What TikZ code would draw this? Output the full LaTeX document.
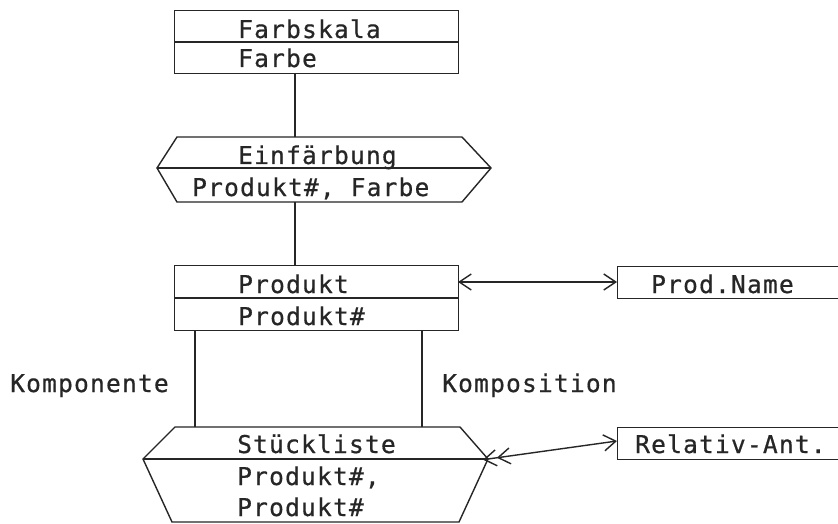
\documentclass[tikz,border=0pt]{standalone}
\usepackage{fontspec}
\newfontfamily\plotfont{DejaVu Sans Mono}[LetterSpace=5, FakeBold=0.6]
\usetikzlibrary{arrows.meta}
\begin{document}
\begin{tikzpicture}[x=1pt, y=-1pt,
  lbl/.style={anchor=base west, inner sep=0pt, font=\plotfont\fontsize{24.5}{28}\selectfont, text=black!85},
  frame/.style={draw=black!85, line width=1.4pt},
  link/.style={draw=black!85, line width=1.4pt},
  box/.style={frame, anchor=north west, inner sep=0pt},
  >={Straight Barb[length=12pt,width=16pt]}]
\useasboundingbox (0,0) rectangle (838,524);
\fill[white] (0,0) rectangle (838,524);

% entity: Farbskala
\node[box, minimum width=284pt, minimum height=63pt] (farbskala) at (174,10) {};
\draw[frame] (174,42) -- (458,42);
\node[lbl] (fs1) at (238,38) {Farbskala};
\node[lbl] (fs2) at (238,67) {Farbe};

% relationship: Einfärbung
\draw[frame] (177,137) -- (462,137) -- (491,168) -- (462,202) -- (177,202) -- (157,168) -- cycle;
\draw[frame] (157,168) -- (491,168);
\node[lbl] (ei1) at (238,164) {Einfärbung};
\node[lbl] (ei2) at (192,196) {Produkt\#, Farbe};

% entity: Produkt
\node[box, minimum width=284pt, minimum height=65pt] (produkt) at (174,265) {};
\draw[frame] (174,298) -- (458,298);
\node[lbl] (pr1) at (238,293) {Produkt};
\node[lbl] (pr2) at (238,325) {Produkt\#};

% attribute: Prod.Name
\node[box, minimum width=240pt, minimum height=32pt] (prodname) at (617,266) {};
\node[lbl] (pn) at (651,293) {Prod.Name};

% relationship: Stückliste
\draw[frame] (175,427) -- (460,427) -- (488,459) -- (459,522) -- (172,522) -- (143,459) -- cycle;
\draw[frame] (143,459) -- (488,459);
\node[lbl] (st1) at (237,453) {Stückliste};
\node[lbl] (st2) at (237,485) {Produkt\#,};
\node[lbl] (st3) at (237,516) {Produkt\#};

% attribute: Relativ-Ant.
\node[box, minimum width=240pt, minimum height=32pt] (relant) at (617,427) {};
\node[lbl] (ra) at (635,453) {Relativ-Ant.};

% role labels
\node[lbl] (komp1) at (10,392) {Komponente};
\node[lbl] (komp2) at (442,392) {Komposition};

% attachment points on the shapes
\coordinate (fs-b) at (295,73);
\coordinate (ei-t) at (295,137);
\coordinate (ei-b) at (295,202);
\coordinate (pr-t) at (295,265);
\coordinate (pr-bl) at (195,330);
\coordinate (pr-br) at (422,330);
\coordinate (st-tl) at (195,427);
\coordinate (st-tr) at (422,427);
\coordinate (pr-r) at (458,282);
\coordinate (pn-l) at (617,282);
\coordinate (st-r) at (488,459);
\coordinate (ra-l) at (617,441);

% connectors
\draw[link] (fs-b) -- (ei-t);
\draw[link] (ei-b) -- (pr-t);
\draw[link] (pr-bl) -- (st-tl);
\draw[link] (pr-br) -- (st-tr);
\draw[link, <->] (pr-r) -- (pn-l);
\draw[link, {Straight Barb[length=12pt,width=16pt,sep=-5pt]Straight Barb[length=12pt,width=16pt]}-{Straight Barb[length=12pt,width=16pt]}] (st-r) -- (ra-l);
\end{tikzpicture}
\end{document}
